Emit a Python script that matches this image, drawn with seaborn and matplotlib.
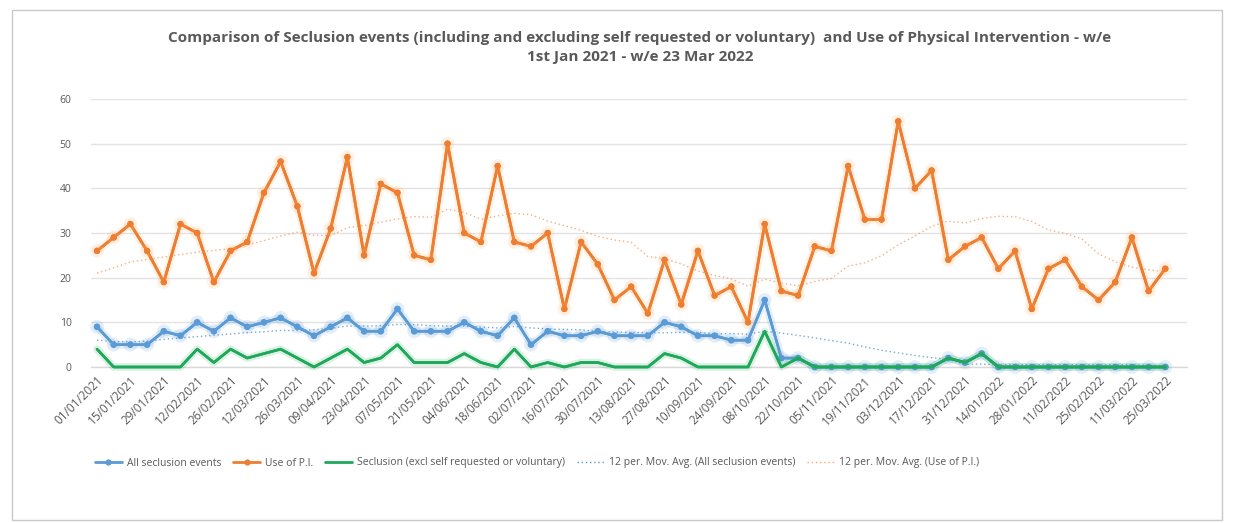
import numpy as np
import pandas as pd
import matplotlib
matplotlib.use("Agg")
import matplotlib.pyplot as plt
import seaborn as sns
from matplotlib.lines import Line2D
from matplotlib.patches import Rectangle
import matplotlib.patheffects as pe

# ---------------- data ----------------
weeks = pd.date_range("2021-01-01", periods=65, freq="7D").strftime("%d/%m/%Y").tolist()

all_seclusion = [9, 5, 5, 5, 8, 7, 10, 8, 11, 9, 10, 11, 9, 7, 9, 11, 8, 8, 13, 8,
                 8, 8, 10, 8, 7, 11, 5, 8, 7, 7, 8, 7, 7, 7, 10, 9, 7, 7, 6, 6,
                 15, 2, 2, 0, 0, 0, 0, 0, 0, 0, 0, 2, 1, 3, 0, 0, 0, 0, 0, 0,
                 0, 0, 0, 0, 0]

use_of_pi = [26, 29, 32, 26, 19, 32, 30, 19, 26, 28, 39, 46, 36, 21, 31, 47, 25, 41, 39, 25,
             24, 50, 30, 28, 45, 28, 27, 30, 13, 28, 23, 15, 18, 12, 24, 14, 26, 16, 18, 10,
             32, 17, 16, 27, 26, 45, 33, 33, 55, 40, 44, 24, 27, 29, 22, 26, 13, 22, 24, 18,
             15, 19, 29, 17, 22]

seclusion_excl = [4, 0, 0, 0, 0, 0, 4, 1, 4, 2, 3, 4, 2, 0, 2, 4, 1, 2, 5, 1,
                  1, 1, 3, 1, 0, 4, 0, 1, 0, 1, 1, 0, 0, 0, 3, 2, 0, 0, 0, 0,
                  8, 0, 2, 0, 0, 0, 0, 0, 0, 0, 0, 2, 1, 3, 0, 0, 0, 0, 0, 0,
                  0, 0, 0, 0, 0]

# moving-average values for the first 11 weeks (window reaches before the shown data)
pi_ma_lead = [21.0, 22.2, 23.5, 24.1, 24.6, 25.2, 25.7, 26.1, 26.5, 27.3, 28.3]
all_ma_lead = [6.0, 5.7, 5.6, 5.8, 6.2, 6.5, 6.8, 7.1, 7.4, 7.7, 7.9]

series_names = ["All seclusion events", "Use of P.I.",
                "Seclusion (excl self requested or voluntary)",
                "12 per. Mov. Avg. (All seclusion events)",
                "12 per. Mov. Avg. (Use of P.I.)"]

# ---------------- derived ----------------
idx = np.arange(len(weeks))
pi_ma = pd.Series(use_of_pi).rolling(12).mean().to_numpy()
pi_ma[:11] = pi_ma_lead
all_ma = pd.Series(all_seclusion).rolling(12).mean().to_numpy()
all_ma[:11] = all_ma_lead

df = pd.DataFrame({"idx": idx, "all": all_seclusion, "pi": use_of_pi,
                   "excl": seclusion_excl, "pi_ma": pi_ma, "all_ma": all_ma})

# ---------------- style ----------------
sns.set_theme(style="white")
plt.rcParams["font.family"] = ["Open Sans", "DejaVu Sans"]

BLUE = "#5B9BD5"
ORANGE = "#ED7D31"
GREEN = "#1EA85A"
TXT = "#595959"
MA_OR = "#F2A775"

fig = plt.figure(figsize=(12.34, 5.23), dpi=100)
ax = fig.add_axes([91 / 1234, 156 / 523, 1096 / 1234, 268 / 523])

glow = lambda c: [pe.withStroke(linewidth=5.5, foreground=c, alpha=0.16), pe.Normal()]

sns.lineplot(data=df, x="idx", y="all_ma", ax=ax, color=BLUE, lw=1.0,
             linestyle=(0, (1, 2)), alpha=0.85, zorder=2)
sns.lineplot(data=df, x="idx", y="pi_ma", ax=ax, color=MA_OR, lw=1.0,
             linestyle=(0, (1, 2)), alpha=0.9, zorder=2)
sns.lineplot(data=df, x="idx", y="all", ax=ax, color=BLUE, lw=1.9, marker="o",
             markersize=4.5, markeredgewidth=0, zorder=3, path_effects=glow(BLUE))
sns.lineplot(data=df, x="idx", y="pi", ax=ax, color=ORANGE, lw=2.0, marker="o",
             markersize=4.5, markeredgewidth=0, zorder=4, path_effects=glow("#FFB060"))
sns.lineplot(data=df, x="idx", y="excl", ax=ax, color=GREEN, lw=1.9, zorder=5,
             path_effects=glow(GREEN))

ax.set_xlim(-0.36, 65.3)
ax.set_ylim(0, 60)
ax.set_yticks(range(0, 61, 10))
ax.set_xticks(idx[::2])
ax.set_xticklabels(weeks[::2], rotation=45, ha="right", rotation_mode="anchor",
                   fontsize=8.5, color=TXT)
ax.tick_params(axis="y", labelsize=7.5, labelcolor=TXT, length=0, pad=14)
ax.tick_params(axis="x", length=0, pad=5)
ax.set_xlabel("")
ax.set_ylabel("")
ax.grid(axis="y", color="#E3E3E3", lw=1.0)
ax.grid(axis="x", visible=False)
for s in ax.spines.values():
    s.set_visible(False)
ax.axhline(0, color="#D9D9D9", lw=1.0, zorder=1)
for line in ax.lines:
    line.set_clip_on(False)

fig.text(640 / 1234, 1 - 38 / 523,
         "Comparison of Seclusion events (including and excluding self requested or voluntary)  and Use of Physical Intervention - w/e",
         ha="center", va="center", fontsize=11, fontweight="bold", color=TXT)
fig.text(640 / 1234, 1 - 57 / 523, "1st Jan 2021 - w/e 23 Mar 2022",
         ha="center", va="center", fontsize=11, fontweight="bold", color=TXT)

handles = [
    Line2D([], [], color=BLUE, lw=2, marker="o", markersize=4.5, markeredgewidth=0),
    Line2D([], [], color=ORANGE, lw=2, marker="o", markersize=4.5, markeredgewidth=0),
    Line2D([], [], color=GREEN, lw=2),
    Line2D([], [], color=BLUE, lw=1, linestyle=(0, (1, 2))),
    Line2D([], [], color=MA_OR, lw=1, linestyle=(0, (1, 2))),
]
fig.legend(handles, series_names, loc="center", bbox_to_anchor=(537 / 1234, 1 - 463 / 523),
           ncol=5, frameon=False, fontsize=7.5, labelcolor=TXT, handlelength=2.6,
           columnspacing=1.1, handletextpad=0.5)

fig.add_artist(Rectangle((12 / 1234, 3 / 523), 1210 / 1234, 510 / 523,
                         transform=fig.transFigure, fill=False, ec="#C9C9C9", lw=1.0))

fig.savefig("out.png", dpi=100)
